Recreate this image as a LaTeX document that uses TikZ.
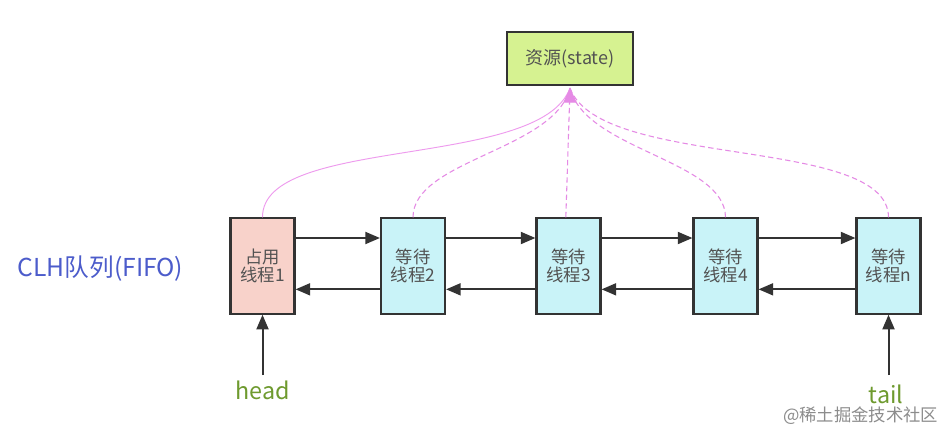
\documentclass[tikz,border=0pt]{standalone}
\usepackage{fontspec}
\setmainfont{Noto Sans CJK SC}
\usetikzlibrary{arrows.meta}
\definecolor{stfill}{HTML}{D6F291}
\definecolor{ownfill}{HTML}{F8D2CA}
\definecolor{waitfill}{HTML}{C9F3F8}
\definecolor{edge}{HTML}{333333}
\definecolor{pinkl}{HTML}{EE9BEE}
\definecolor{pinkd}{HTML}{E58AE5}
\definecolor{qblue}{HTML}{4C5CCB}
\definecolor{ptr}{HTML}{6E9A2E}
\tikzset{
  box/.style={draw=edge, line width=1.6pt, minimum width=48pt, minimum height=71.5pt, inner sep=0pt, align=center, font=\fontsize{13}{14}\selectfont, text=edge!85},
  stbox/.style={draw=edge, line width=1.6pt, fill=stfill, minimum width=94.5pt, minimum height=40pt, inner sep=0pt, font=\fontsize{13.5}{15}\selectfont, text=edge!85},
  link/.style={draw=edge, line width=1.5pt, -{Triangle[length=11pt,width=9pt]}},
  own/.style={draw=pinkl, line width=0.7pt},
  wait/.style={draw=pinkd, line width=0.8pt, dash pattern=on 4pt off 2.5pt},
  tip/.style={draw=pinkd, line width=0.8pt, -{Triangle[length=11pt,width=10pt,fill=pinkd]}},
  ptrtext/.style={text=ptr, font=\fontsize{17.5}{19}\selectfont}
}
\begin{document}
\begin{tikzpicture}[x=0.75pt,y=-0.75pt]
\useasboundingbox (0,0) rectangle (948,431);
\fill[white] (0,0) rectangle (948,431);
\node[stbox] (st) at (570,58.5) {资源(state)};
\node[box, fill=ownfill] (b1) at (262.5,266) {占用\\线程1};
\node[box, fill=waitfill] (b2) at (413,266) {等待\\线程2};
\node[box, fill=waitfill] (b3) at (568.5,266) {等待\\线程3};
\node[box, fill=waitfill] (b4) at (725.5,266) {等待\\线程4};
\node[box, fill=waitfill] (bn) at (888.5,266) {等待\\线程n};
\node[text=qblue, font=\fontsize{18.5}{20}\selectfont, anchor=west] (q) at (13,269) {CLH队列(FIFO)};
\node[ptrtext] (hd) at (262.5,390) {head};
\node[ptrtext] (tl) at (886,394) {tail};
\node[text=black!45, font=\fontsize{13}{14}\selectfont, anchor=east] (wm) at (943,416) {@稀土掘金技术社区};
\coordinate (hs) at (262.5,375);
\coordinate (ts) at (888.5,375);
\coordinate (sb) at (570,88);
% pointers between nodes
\foreach \a/\b in {b1/b2,b2/b3,b3/b4,b4/bn}{
  \draw[link] ([yshift=21pt]\a.east) -- ([yshift=21pt]\b.west);
  \draw[link] ([yshift=-17.5pt]\b.west) -- ([yshift=-17.5pt]\a.east);
}
\draw[link] (hs) -- (b1.south);
\draw[link] (ts) -- (bn.south);
% state links
\draw[own] (b1.north) .. controls (262,135) and (540,170) .. (sb);
\draw[wait] (b2.north) .. controls (413,160) and (555,150) .. (sb);
\draw[wait] ([xshift=-2pt]b3.north) -- (sb);
\draw[wait] (b4.north) .. controls (725,160) and (585,150) .. (sb);
\draw[wait] (bn.north) .. controls (888,135) and (600,170) .. (sb);
\draw[tip] ([yshift=-6pt]sb) -- (sb);
\end{tikzpicture}
\end{document}
